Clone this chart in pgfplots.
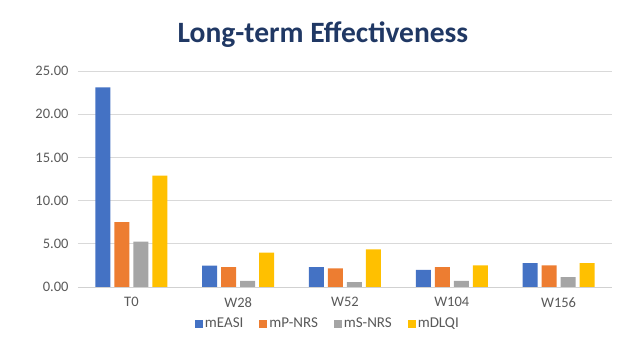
\documentclass[border=0pt]{standalone}
\usepackage{pgfplots}
\pgfplotsset{compat=1.18}
\usepackage{fontspec}
\setmainfont{Carlito}
\definecolor{cA}{HTML}{4472C4}
\definecolor{cB}{HTML}{ED7D31}
\definecolor{cC}{HTML}{A5A5A5}
\definecolor{cD}{HTML}{FFC000}
\definecolor{tick}{HTML}{595959}
\definecolor{ttl}{HTML}{203864}
\begin{document}
\begin{tikzpicture}[x=1pt,y=1pt]
\path[use as bounding box] (0,0) rectangle (633,358);
\node[font=\fontsize{29.5}{32}\selectfont\bfseries, text=ttl] at (323,323) {Long-term Effectiveness};
\begin{axis}[
  at={(78pt,71pt)}, anchor=south west,
  scale only axis, width=534pt, height=216pt,
  ybar=4pt, bar width=15pt,
  xmin=-0.5, xmax=4.5, ymin=0, ymax=25,
  xtick={0,1,2,3,4}, xticklabels={T0,W28,W52,W104,W156},
  ytick={0,5,10,15,20,25},
  yticklabel style={/pgf/number format/fixed, /pgf/number format/zerofill, /pgf/number format/precision=2, xshift=-6pt},
  /pgf/number format/assume math mode=true,
  ticklabel style={font=\fontsize{14.5}{16}\selectfont, text=tick},
  major tick length=0pt,
  axis x line*=bottom, axis y line*=left,
  x axis line style={draw=black!18, line width=0.8pt, -},
  y axis line style={draw=none},
  ymajorgrids, grid style={draw=black!15, line width=0.8pt},
  tick style={draw=none},
  xticklabel style={yshift=-7pt},
  legend style={at={(0.468,-0.125)}, anchor=north, draw=none, legend columns=4,
    font=\fontsize{15}{17}\selectfont, text=tick,
    /tikz/every even column/.append style={column sep=14pt}},
  legend image code/.code={\fill[#1] (0pt,-4pt) rectangle (8pt,4pt);},
  every axis plot/.append style={draw=none},
]
\addplot[fill=cA] coordinates {(0,23.1) (1,2.46) (2,2.3) (3,1.97) (4,2.75)};
\addplot[fill=cB] coordinates {(0,7.5) (1,2.3) (2,2.15) (3,2.3) (4,2.5)};
\addplot[fill=cC] coordinates {(0,5.25) (1,0.7) (2,0.55) (3,0.7) (4,1.15)};
\addplot[fill=cD] coordinates {(0,12.9) (1,3.97) (2,4.36) (3,2.5) (4,2.75)};
\legend{mEASI,mP-NRS,mS-NRS,mDLQI}
\end{axis}
\end{tikzpicture}
\end{document}
